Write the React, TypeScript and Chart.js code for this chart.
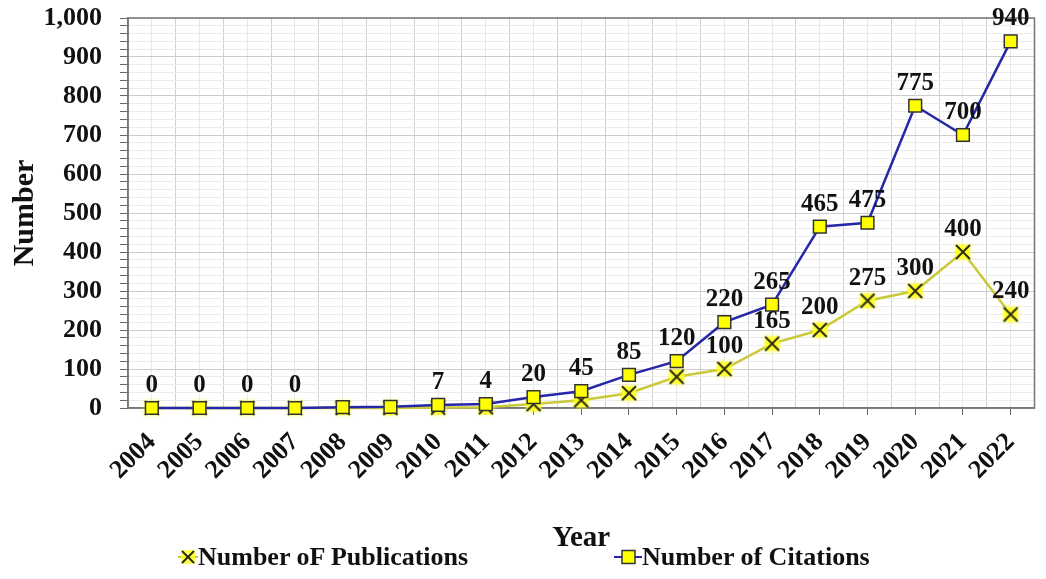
import React, { useEffect, useRef } from "react";
import { Chart, registerables } from "chart.js";

Chart.register(...registerables);

const FONT = "'Liberation Serif', 'Times New Roman', serif";

const years = ["2004", "2005", "2006", "2007", "2008", "2009", "2010", "2011", "2012", "2013", "2014", "2015", "2016", "2017", "2018", "2019", "2020", "2021", "2022"];
const publications = [0, 0, 0, 0, 0, 0, 1, 2, 10, 20, 38, 80, 100, 165, 200, 275, 300, 400, 240];
const citations = [0, 0, 0, 0, 2, 3, 8, 10, 28, 43, 85, 120, 220, 265, 465, 475, 775, 700, 940];
const publicationLabels = ["", "", "", "", "", "", "", "", "", "", "", "", "100", "165", "200", "275", "300", "400", "240"];
const citationLabels = ["0", "0", "0", "0", "", "", "7", "4", "20", "45", "85", "120", "220", "265", "465", "475", "775", "700", "940"];
const seriesNames = ["Number oF Publications", "Number of Citations"];
const yMin = 0;
const yMax = 1000;
const yMinorStep = 20;
const yLabelStep = 100;

const PUB_COLOR = "#c9c93a";
const CIT_COLOR = "#2626a8";

function makeCrossImage() {
  const c = document.createElement("canvas");
  c.width = 24;
  c.height = 24;
  const g = c.getContext("2d")!;
  g.shadowColor = "rgba(255,255,0,0.9)";
  g.shadowBlur = 4;
  g.fillStyle = "rgba(255,255,40,0.85)";
  g.fillRect(5, 5, 14, 14);
  g.shadowBlur = 0;
  g.strokeStyle = "#2b2b10";
  g.lineWidth = 2;
  g.beginPath();
  g.moveTo(5, 5);
  g.lineTo(19, 19);
  g.moveTo(19, 5);
  g.lineTo(5, 19);
  g.stroke();
  return c;
}

const pointLabelPlugin = {
  id: "pointLabels",
  afterDatasetsDraw(chart: any) {
    const ctx = chart.ctx;
    ctx.save();
    ctx.font = `bold 25px ${FONT}`;
    ctx.fillStyle = "#111";
    ctx.textAlign = "center";
    ctx.textBaseline = "alphabetic";
    chart.data.datasets.forEach((ds: any, i: number) => {
      const labels: string[] = ds.pointLabels || [];
      const meta = chart.getDatasetMeta(i);
      meta.data.forEach((pt: any, j: number) => {
        const t = labels[j];
        if (t) ctx.fillText(t, pt.x, pt.y - 16);
      });
    });
    ctx.restore();
  },
};

const framePlugin = {
  id: "frame",
  beforeDatasetsDraw(chart: any) {
    const { ctx, chartArea } = chart;
    ctx.save();
    ctx.strokeStyle = "#777";
    ctx.lineWidth = 1.5;
    ctx.strokeRect(chartArea.left, chartArea.top, chartArea.right - chartArea.left, chartArea.bottom - chartArea.top);
    ctx.restore();
  },
};

export default function App() {
  const canvasRef = useRef<HTMLCanvasElement | null>(null);

  useEffect(() => {
    if (!canvasRef.current) return;
    const cross = makeCrossImage();
    const chart = new Chart(canvasRef.current, {
      type: "line",
      data: {
        labels: years,
        datasets: [
          {
            label: seriesNames[0],
            data: publications,
            pointLabels: publicationLabels,
            borderColor: PUB_COLOR,
            borderWidth: 2.5,
            pointStyle: cross,
            pointRadius: 9,
            tension: 0,
            order: 1,
            clip: false,
          } as any,
          {
            label: seriesNames[1],
            data: citations,
            pointLabels: citationLabels,
            borderColor: CIT_COLOR,
            borderWidth: 2.5,
            pointStyle: "rect",
            pointRadius: 9,
            pointBackgroundColor: "#ffff00",
            pointBorderColor: "#333",
            pointBorderWidth: 1.5,
            tension: 0,
            order: 0,
            clip: false,
          } as any,
        ],
      },
      options: {
        animation: false,
        responsive: true,
        maintainAspectRatio: false,
        layout: { padding: { left: 0, top: 18, right: 11, bottom: 0 } },
        plugins: {
          legend: { display: false },
          tooltip: { enabled: false },
        },
        scales: {
          x: {
            type: "category",
            position: "bottom",
            offset: true,
            grid: { color: "#e8e8e8", lineWidth: 1, offset: false, tickLength: 7, tickColor: "#666" },
            border: { color: "#777", width: 1.5 },
            ticks: {
              font: { family: FONT, size: 26, weight: "bold" },
              color: "#111",
              maxRotation: 45,
              minRotation: 45,
              autoSkip: false,
              padding: 12,
            },
            title: {
              display: true,
              text: "Year",
              font: { family: FONT, size: 29, weight: "bold" },
              color: "#111",
              padding: { top: 0, bottom: 23 },
            },
            afterFit: (s: any) => {
              s.height = 171;
            },
          },
          x2: {
            type: "category",
            position: "bottom",
            offset: true,
            grid: { color: "#d0d0d0", lineWidth: 1, offset: true, drawTicks: false },
            border: { display: false },
            ticks: { display: false },
            afterFit: (s: any) => {
              s.height = 0;
            },
          },
          y: {
            min: yMin,
            max: yMax,
            ticks: {
              stepSize: yMinorStep,
              autoSkip: false,
              padding: 18,
              color: "#111",
              font: { family: FONT, size: 26, weight: "bold" },
              callback: (v: any) => (Number(v) % yLabelStep === 0 ? Number(v).toLocaleString("en-US") : ""),
            },
            grid: {
              color: (c: any) => (c.tick && c.tick.value % yLabelStep === 0 ? "#cccccc" : "#ececec"),
              tickLength: 8,
              tickColor: "#666",
            },
            border: { color: "#777", width: 1.5 },
            title: {
              display: true,
              text: "Number",
              font: { family: FONT, size: 30, weight: "bold" },
              color: "#111",
              padding: { top: 7, bottom: 0 },
            },
            afterFit: (s: any) => {
              s.width = 128;
              s.paddingTop = 0;
              s.paddingBottom = 0;
            },
          },
        },
      } as any,
      plugins: [framePlugin, pointLabelPlugin],
    });
    return () => chart.destroy();
  }, []);

  const legendText: React.CSSProperties = {
    position: "absolute",
    top: 542,
    height: 30,
    display: "flex",
    alignItems: "center",
    font: `bold 26px ${FONT}`,
    color: "#111",
    whiteSpace: "nowrap",
  };

  return (
    <div style={{ position: "absolute", left: 0, top: 0, width: 1046, height: 579, background: "#fff" }}>
      <div style={{ position: "absolute", left: 0, top: 0, width: 1046, height: 579 }}>
        <canvas ref={canvasRef} />
      </div>
      <div style={{ ...legendText, left: 178 }}>
        <svg width="20" height="20" style={{ display: "block" }}>
          <line x1="0" y1="10" x2="20" y2="10" stroke={PUB_COLOR} strokeWidth="2" />
          <rect x="3" y="3" width="14" height="14" fill="rgba(255,255,40,0.8)" />
          <line x1="4" y1="4" x2="16" y2="16" stroke="#2b2b10" strokeWidth="2" />
          <line x1="16" y1="4" x2="4" y2="16" stroke="#2b2b10" strokeWidth="2" />
        </svg>
        <span>{seriesNames[0]}</span>
      </div>
      <div style={{ ...legendText, left: 614 }}>
        <svg width="28" height="20" style={{ display: "block" }}>
          <line x1="0" y1="10" x2="28" y2="10" stroke={CIT_COLOR} strokeWidth="2" />
          <rect x="8" y="3.5" width="13" height="13" fill="#ffff00" stroke="#333" strokeWidth="1.5" />
        </svg>
        <span>{seriesNames[1]}</span>
      </div>
    </div>
  );
}
